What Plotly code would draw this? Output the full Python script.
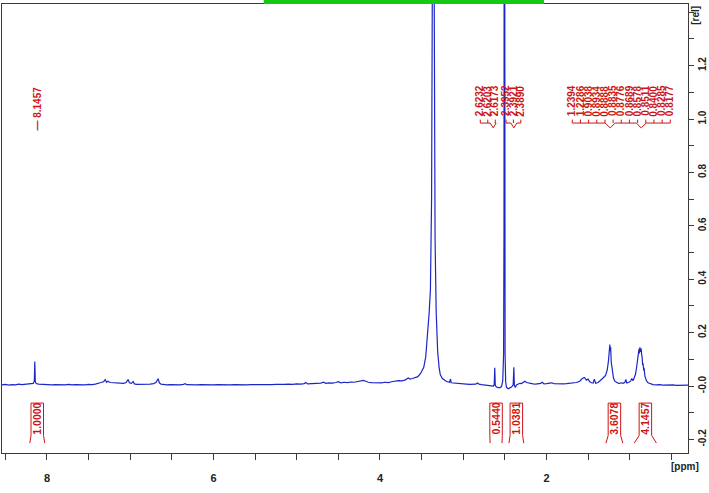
import plotly.graph_objects as go

# ---------------- data ----------------
ppm = [8.54, 8.50, 8.46, 8.42, 8.38, 8.34, 8.30, 8.26, 8.22, 8.19, 8.165, 8.152, 8.146, 8.140, 8.13,
       8.10, 8.06, 8.02, 7.98, 7.94, 7.90, 7.86, 7.82, 7.78, 7.74, 7.70, 7.66, 7.62, 7.58, 7.54,
       7.50, 7.46, 7.42, 7.38, 7.35, 7.32, 7.30, 7.285, 7.27, 7.24, 7.20, 7.16, 7.12, 7.08, 7.05,
       7.025, 7.01, 6.985, 6.965, 6.95, 6.92, 6.88, 6.84, 6.80, 6.76, 6.72, 6.69, 6.665, 6.65,
       6.63, 6.60, 6.56, 6.52, 6.48, 6.44, 6.40, 6.36, 6.34, 6.32, 6.28, 6.24, 6.20, 6.15, 6.10,
       6.05, 6.00, 5.95, 5.90, 5.85, 5.80, 5.75, 5.70, 5.65, 5.60, 5.55, 5.50, 5.45, 5.40, 5.35,
       5.30, 5.25, 5.20, 5.15, 5.10, 5.05, 5.00, 4.95, 4.91, 4.89, 4.87, 4.83, 4.79, 4.75, 4.71,
       4.68, 4.65, 4.61, 4.57, 4.53, 4.50, 4.47, 4.43, 4.39, 4.35, 4.31, 4.27, 4.23, 4.20, 4.17,
       4.14, 4.10, 4.06, 4.02, 3.98, 3.94, 3.90, 3.86, 3.82, 3.78, 3.74, 3.70, 3.66, 3.64, 3.61,
       3.58, 3.545, 3.51, 3.474, 3.45, 3.426, 3.41, 3.394, 3.38, 3.37, 3.36, 3.35, 3.338, 3.325,
       3.307, 3.29, 3.275, 3.25, 3.227, 3.20, 3.165, 3.152, 3.145, 3.12, 3.08, 3.04, 3.00, 2.96,
       2.92, 2.88, 2.85, 2.83, 2.81, 2.78, 2.74, 2.70, 2.67, 2.64, 2.628, 2.621, 2.615, 2.60,
       2.58, 2.56, 2.54, 2.525, 2.515, 2.510, 2.506, 2.502, 2.497, 2.49, 2.48, 2.46, 2.44, 2.42,
       2.40, 2.392, 2.386, 2.375, 2.36, 2.34, 2.32, 2.30, 2.28, 2.26, 2.24, 2.22, 2.19, 2.16,
       2.13, 2.10, 2.07, 2.05, 2.03, 2.00, 1.97, 1.94, 1.91, 1.88, 1.84, 1.80, 1.76, 1.72, 1.68,
       1.64, 1.60, 1.57, 1.545, 1.52, 1.50, 1.48, 1.46, 1.44, 1.425, 1.41, 1.38, 1.35, 1.32, 1.29,
       1.27, 1.255, 1.245, 1.239, 1.234, 1.229, 1.222, 1.21, 1.195, 1.18, 1.16, 1.14, 1.12, 1.10,
       1.08, 1.06, 1.045, 1.035, 1.01, 0.99, 0.975, 0.96, 0.945, 0.93, 0.915, 0.904, 0.895, 0.889,
       0.884, 0.878, 0.870, 0.863, 0.857, 0.851, 0.845, 0.840, 0.832, 0.828, 0.818, 0.80, 0.78,
       0.75, 0.72, 0.68, 0.64, 0.60, 0.56, 0.52, 0.48, 0.44, 0.40, 0.36, 0.30]

intensity = [0.004, 0.006, 0.003, 0.005, 0.004, 0.007, 0.005, 0.006, 0.008, 0.007, 0.010, 0.018, 0.092, 0.016, 0.009,
             0.007, 0.006, 0.005, 0.006, 0.004, 0.005, 0.004, 0.005, 0.004, 0.006, 0.004, 0.005, 0.004, 0.005, 0.004,
             0.006, 0.005, 0.007, 0.009, 0.013, 0.016, 0.024, 0.014, 0.018, 0.013, 0.012, 0.011, 0.012, 0.010, 0.013,
             0.024, 0.012, 0.010, 0.017, 0.008, 0.006, 0.006, 0.005, 0.006, 0.007, 0.009, 0.013, 0.027, 0.012,
             0.007, 0.005, 0.004, 0.005, 0.004, 0.005, 0.004, 0.006, 0.009, 0.005, 0.004, 0.005, 0.004, 0.005, 0.004,
             0.005, 0.004, 0.005, 0.004, 0.005, 0.004, 0.005, 0.004, 0.005, 0.004, 0.005, 0.004, 0.005, 0.005, 0.004,
             0.005, 0.006, 0.005, 0.006, 0.007, 0.006, 0.008, 0.007, 0.009, 0.013, 0.008, 0.009, 0.010, 0.009, 0.011,
             0.014, 0.010, 0.012, 0.011, 0.013, 0.016, 0.012, 0.014, 0.013, 0.015, 0.014, 0.016, 0.017, 0.021, 0.018,
             0.014, 0.013, 0.012, 0.011, 0.012, 0.014, 0.013, 0.016, 0.018, 0.020, 0.019, 0.022, 0.030, 0.026, 0.028,
             0.032, 0.035, 0.048, 0.070, 0.110, 0.196, 0.270, 0.360, 0.700, 1.600, 3.200, 1.600, 0.550, 0.280,
             0.130, 0.070, 0.042, 0.028, 0.022, 0.017, 0.014, 0.026, 0.012, 0.011, 0.010, 0.009, 0.008, 0.007,
             0.006, 0.005, 0.007, 0.011, 0.007, 0.005, 0.004, 0.002, 0.001, 0.000, 0.004, 0.068, 0.002, -0.004,
             -0.006, -0.006, -0.002, 0.020, 0.120, 0.600, 3.500, 0.600, 0.120, 0.015, -0.005, -0.010, -0.008, -0.004,
             0.004, 0.070, 0.004, -0.006, 0.004, 0.008, 0.010, 0.009, 0.014, 0.018, 0.013, 0.011, 0.009, 0.008,
             0.007, 0.008, 0.010, 0.014, 0.008, 0.009, 0.010, 0.012, 0.009, 0.008, 0.009, 0.008, 0.009, 0.010, 0.011,
             0.013, 0.018, 0.028, 0.032, 0.022, 0.026, 0.016, 0.012, 0.011, 0.026, 0.010, 0.013, 0.020, 0.030, 0.040,
             0.060, 0.095, 0.140, 0.155, 0.130, 0.145, 0.090, 0.052, 0.030, 0.018, 0.013, 0.011, 0.010, 0.012,
             0.010, 0.013, 0.024, 0.011, 0.014, 0.018, 0.028, 0.020, 0.032, 0.045, 0.075, 0.100, 0.118, 0.138,
             0.122, 0.145, 0.128, 0.140, 0.118, 0.108, 0.078, 0.085, 0.058, 0.068, 0.038, 0.020, 0.012,
             0.007, 0.005, 0.004, 0.005, 0.003, 0.004, 0.003, 0.004, 0.002, 0.003, 0.002, 0.003]

# peak picking labels
peak_single = [8.1457]
peak_group1 = [2.6232, 2.6203, 2.6173]
peak_group2 = [2.3952, 2.3921, 2.3890]
peak_group3 = [1.2394, 1.2286, 0.9038, 0.8934, 0.8888, 0.8835, 0.8776,
               0.8689, 0.8578, 0.8511, 0.8400, 0.8285, 0.8177]

# integrals: value and integration limits (ppm)
integral_values = [1.0000, 0.5440, 1.0381, 3.6078, 4.1457]
integral_from = [8.206, 2.677, 2.451, 1.285, 0.945]
integral_to = [8.027, 2.534, 2.273, 1.083, 0.679]

x_tick_vals = [8, 6, 4, 2]
y_tick_vals = [-0.2, 0.0, 0.2, 0.4, 0.6, 0.8, 1.0, 1.2]
y_tick_text = ["-0.2", "-0.0", "0.2", "0.4", "0.6", "0.8", "1.0", "1.2"]

# ---------------- styling / layout ----------------
BLUE = "rgb(28,38,200)"
RED = "rgb(205,20,20)"
AXC = "#3a3a3a"
FONT = "Liberation Sans"

X_RANGE = [8.54, 0.30]
Y_RANGE = [-0.251, 1.431]

fig = go.Figure()
fig.add_trace(go.Scatter(x=ppm, y=intensity, mode="lines",
                         line=dict(color=BLUE, width=1.2), hoverinfo="skip"))

annotations = []
shapes = []

LABEL_Y = 1.068
LBL_BOTTOM = 0.998
BR_Y = 0.985
DIP_Y = 0.967
LBL_SIZE = 10

def add_label(xpos, txt, y=LABEL_Y):
    annotations.append(dict(x=xpos, y=y, xref="x", yref="y", text=txt,
                            showarrow=False, textangle=-90, borderpad=0,
                            xanchor="center", yanchor="middle",
                            font=dict(family=FONT, size=LBL_SIZE, color=RED, weight="bold")))

# single label with its tick dash
add_label(8.117, "— " + f"{peak_single[0]:.4f}", y=1.040)

def bracket_group(values, x_start, step, dips, dip_half):
    xs = [x_start - i * step for i in range(len(values))]
    for xv, v in zip(xs, values):
        add_label(xv, f"{v:.4f}")
        shapes.append(dict(type="line", xref="x", yref="y", x0=xv, x1=xv,
                           y0=LBL_BOTTOM, y1=BR_Y, line=dict(color=RED, width=1)))
    path = f"M {xs[0]},{BR_Y}"
    for d in dips:
        path += f" L {d + dip_half},{BR_Y} L {d},{DIP_Y} L {d - dip_half},{BR_Y}"
    path += f" L {xs[-1]},{BR_Y}"
    shapes.append(dict(type="path", xref="x", yref="y", path=path,
                       line=dict(color=RED, width=1)))

bracket_group(peak_group1, 2.795, 0.090, [2.64], 0.035)
bracket_group(peak_group2, 2.486, 0.089, [2.392], 0.035)
bracket_group(peak_group3, 1.690, 0.0981, [1.235, 0.862], 0.06)

# integrals
BOX_HALF = 0.075
I_TOP, I_LEG, I_BOT = -0.064, -0.185, -0.214
for v, a, b in zip(integral_values, integral_from, integral_to):
    c = (a + b) / 2
    bl, brx = c + BOX_HALF, c - BOX_HALF
    path = (f"M {a},{I_BOT} L {bl},{I_LEG} L {bl},{I_TOP} L {brx},{I_TOP} "
            f"L {brx},{I_LEG} L {b},{I_BOT}")
    shapes.append(dict(type="path", xref="x", yref="y", path=path,
                       line=dict(color=RED, width=1)))
    annotations.append(dict(x=c, y=(I_TOP + I_LEG) / 2 + 0.003, xref="x", yref="y",
                            text=f"{v:.4f}", showarrow=False, textangle=-90, borderpad=0,
                            xanchor="center", yanchor="middle",
                            font=dict(family=FONT, size=10.5, color=RED, weight="bold")))

# green status bar above the frame
shapes.append(dict(type="rect", xref="paper", yref="paper",
                   x0=0.3815, x1=0.790, y0=1.0, y1=1.0089,
                   fillcolor="rgb(20,200,20)", line=dict(width=0), layer="above"))

annotations.append(dict(x=0.9957, y=-0.030, xref="paper", yref="paper", text="[ppm]",
                        showarrow=False, xanchor="center", yanchor="middle",
                        font=dict(family=FONT, size=10, color="#222", weight="bold")))
annotations.append(dict(x=1.011, y=0.975, xref="paper", yref="paper", text="[rel]",
                        showarrow=False, textangle=-90, xanchor="center", yanchor="middle",
                        font=dict(family=FONT, size=10, color="#222", weight="bold")))

fig.update_layout(
    width=709, height=493,
    margin=dict(l=1, r=16, t=4, b=40),
    paper_bgcolor="white", plot_bgcolor="white",
    showlegend=False,
    shapes=shapes, annotations=annotations,
    xaxis=dict(range=X_RANGE, showgrid=False, zeroline=False,
               showline=True, linecolor=AXC, linewidth=1, mirror=True,
               ticks="outside", ticklen=6, tickcolor=AXC,
               tickvals=x_tick_vals, ticktext=[str(v) for v in x_tick_vals],
               ticklabelstandoff=9,
               tickfont=dict(family=FONT, size=11, color="#222", weight="bold"),
               minor=dict(dtick=0.5, tick0=0, ticks="outside", ticklen=6, tickcolor=AXC)),
    yaxis=dict(range=Y_RANGE, side="right", showgrid=False, zeroline=False,
               showline=True, linecolor=AXC, linewidth=1, mirror=True,
               ticks="outside", ticklen=5, tickcolor=AXC,
               tickvals=y_tick_vals, ticktext=y_tick_text, tickangle=-90,
               tickfont=dict(family=FONT, size=10, color="#222", weight="bold"),
               minor=dict(dtick=0.1, tick0=0, ticks="outside", ticklen=5, tickcolor=AXC)),
)

fig.write_html("out.html")
